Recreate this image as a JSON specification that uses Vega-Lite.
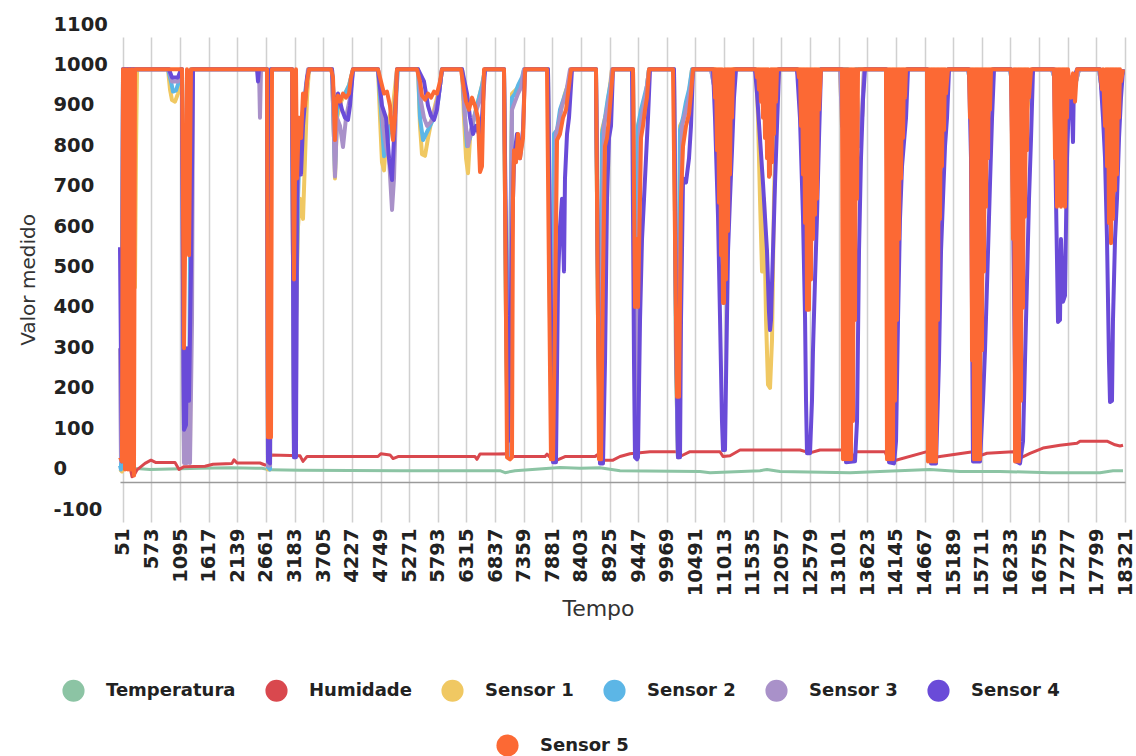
{
  "$schema": "https://vega.github.io/schema/vega-lite/v6.json",
  "width": 1005,
  "height": 485,
  "autosize": {"type": "none"},
  "padding": {"left": 120, "top": 37, "right": 11, "bottom": 234},
  "background": "#ffffff",
  "config": {
    "view": {"stroke": null},
    "font": "DejaVu Sans"
  },
  "datasets": {
    "series": [
      {"name": "Temperatura",
       "t": [0,365,547,1094,1458,2005,2589,2735,3281,5104,6927,7019,7201,8021,8386,8750,9115,10573,10756,11667,11795,12032,13308,13855,14766,15313,16042,16954,17865,18102,18285],
       "v": [33,32,30,32,33,34,33,29,28,27,27,22,27,35,33,34,27,25,22,27,30,25,22,25,30,25,25,22,22,27,27]},
      {"name": "Humidade",
       "t": [0,91,182,219,255,310,456,565,656,1003,1076,1167,1550,1695,2042,2078,2133,2552,2643,2716,2753,3281,3336,3409,4703,4758,4922,4977,5068,5834,6472,6508,6563,6873,7055,7146,7748,7784,7875,7967,8112,8659,8696,8750,8987,9115,9297,9662,10172,10209,10391,10938,10993,11120,11303,12396,12579,12761,13308,13344,13417,13946,14019,14128,14712,14766,14949,15550,15587,15805,16279,16407,16589,16826,17136,17446,17501,17993,18139,18230,18285],
       "v": [41,38,36,12,15,29,45,53,47,47,30,37,38,43,45,54,46,46,41,41,66,64,50,62,62,69,66,57,62,62,62,55,68,68,69,62,62,68,55,53,62,62,66,53,53,62,69,74,74,62,74,74,62,64,78,78,71,78,78,53,74,74,49,52,74,58,62,74,60,70,74,58,70,83,90,95,100,100,91,88,90]},
      {"name": "Sensor 1",
       "t": [0,36,73,237,255,273,292,310,875,912,948,1003,1057,1112,1130,1167,1276,1313,2680,2698,2735,2753,3136,3172,3208,3245,3281,3336,3373,3409,3445,3865,3901,3919,3956,4029,4102,4175,4248,4703,4740,4776,4813,4849,4904,4977,5050,5433,5469,5505,5560,5615,5688,5761,5834,5870,6235,6271,6308,6344,6381,6453,6526,6599,6654,7000,7037,7073,7110,7146,7219,7292,7365,7401,7802,7839,7875,7912,7967,8039,8112,8185,8222,8677,8714,8750,8787,8860,8914,8969,9352,9388,9407,9443,9516,9589,9644,10099,10136,10172,10209,10264,10318,10373,10428,10847,10920,10993,11029,11102,11175,11594,11631,11667,11704,11740,11777,11813,11850,11886,11922,11959,12014,12360,12451,12542,12579,12615,12688,12761,13126,13162,13199,13417,13454,13490,13527,13563,13964,14019,14074,14128,14183,14238,14292,14347,14712,14766,14821,14857,14912,14967,15022,15094,15459,15587,15678,15732,15769,15860,15915,16225,16334,16425,16480,16516,16589,16644,16990,17100,17209,17319,17428,17482,17847,17920,17975,18029,18084,18139,18194,18248,18285],
       "v": [30,25,1020,1020,500,480,820,1020,1020,970,944,940,960,1020,1020,80,80,1020,1020,30,30,1020,1020,80,400,630,700,650,800,950,1020,1020,850,750,900,940,960,980,1020,1020,900,790,770,840,900,930,1020,1020,880,810,806,850,900,940,980,1020,1020,900,800,763,850,900,940,980,1020,1020,400,60,500,960,970,980,1000,1020,1020,400,60,850,860,920,960,990,1020,1020,400,60,870,910,960,1020,1020,300,60,880,920,960,1020,1020,300,60,880,895,920,960,1020,1020,950,845,900,970,1020,1020,900,700,520,700,400,240,232,350,700,900,1020,1020,950,850,780,850,950,1020,1020,880,1010,1010,900,830,900,1020,1020,950,880,850,870,920,970,1020,1020,960,920,900,920,950,980,1020,1020,950,900,860,900,970,1020,1020,950,900,860,900,970,1020,1020,970,940,960,990,1020,1020,950,900,870,860,890,940,990,1020]},
      {"name": "Sensor 2",
       "t": [0,18,55,875,930,966,1021,1076,1130,1167,1258,1294,2680,2698,2735,2753,3136,3172,3208,3245,3281,3336,3391,3445,3865,3901,3919,3956,4029,4102,4175,4248,4703,4758,4813,4867,4922,4977,5031,5068,5433,5469,5524,5578,5651,5724,5797,5870,6235,6289,6326,6381,6453,6526,6599,6654,7000,7037,7073,7110,7146,7201,7256,7328,7365,7802,7839,7875,7912,7967,8021,8094,8167,8222,8677,8714,8750,8787,8842,8896,8951,8987,9352,9388,9407,9443,9498,9553,9607,9644,10099,10136,10172,10209,10264,10318,10373,10428,10774,10829,10883,10938,10993,11047,11102,11157,11211,11576,11631,11685,11740,11795,11850,11904,11959,12014,12342,12396,12451,12506,12560,12615,12670,12725,12779,13271,13308,13381,13417,13964,14019,14074,14128,14183,14238,14292,14347,14712,14766,14821,14857,14912,14967,15022,15094,15459,15532,15605,15678,15751,15824,15915,16225,16298,16371,16425,16480,16553,16644,16990,17100,17209,17319,17428,17482,17847,17920,17975,18029,18084,18139,18194,18248,18285],
       "v": [40,30,1020,1020,990,965,968,990,1020,80,80,1020,1020,35,30,1020,1020,70,400,700,850,920,980,1020,1020,850,765,920,950,960,980,1020,1020,920,805,830,880,860,950,1020,1020,900,845,860,880,900,940,1020,1020,900,830,850,900,940,980,1020,1020,400,60,500,950,960,980,1000,1020,1020,400,60,860,870,920,950,980,1020,1020,400,60,860,900,950,990,1020,1020,300,60,880,920,950,980,1020,1020,300,60,870,900,940,970,1020,1020,980,950,900,820,880,930,980,1020,1020,990,960,930,900,910,940,980,1020,1020,980,940,890,860,880,930,980,1020,1020,930,930,1020,1020,950,880,850,870,920,970,1020,1020,960,920,900,920,950,980,1020,1020,960,920,900,920,960,1020,1020,950,900,880,900,950,1020,1020,970,940,960,990,1020,1020,950,900,870,860,890,940,990,1020]},
      {"name": "Sensor 3",
       "t": [0,18,36,55,893,948,1057,1112,1130,1148,1167,1221,1258,1276,1313,1331,2534,2552,2570,2680,2698,2735,2753,3136,3172,3208,3227,3263,3318,3373,3427,3865,3901,3919,3956,4011,4065,4120,4193,4248,4703,4758,4794,4849,4904,4959,4995,5050,5433,5487,5542,5597,5670,5742,5815,5870,6235,6289,6344,6399,6453,6526,6599,6654,7000,7037,7073,7110,7146,7201,7256,7310,7365,7802,7839,7875,7912,7948,8003,8058,8131,8204,8677,8714,8750,8787,8823,8878,8933,8969,9352,9388,9407,9443,9480,9534,9589,9644,10099,10154,10172,10209,10245,10300,10355,10409,10446,10774,10829,10883,10938,10993,11047,11102,11157,11211,11576,11631,11685,11740,11795,11850,11904,11959,12014,12342,12396,12451,12506,12560,12615,12670,12725,12779,13126,13162,13199,13417,13454,13490,13527,13563,13964,14019,14074,14128,14183,14238,14292,14347,14712,14766,14821,14857,14912,14967,15022,15094,15459,15532,15605,15678,15751,15824,15915,16225,16298,16371,16425,16480,16553,16644,16990,17100,17209,17319,17428,17482,17847,17920,17975,18029,18084,18139,18194,18248,18285],
       "v": [330,50,60,1020,1020,990,990,1020,1020,300,46,46,300,46,400,1020,1020,900,1020,1020,40,40,1020,1020,60,200,650,850,900,950,1020,1020,850,755,900,880,828,900,950,1020,1020,950,880,830,800,672,750,1020,1020,940,900,880,890,920,960,1020,1020,900,830,870,900,930,960,1020,1020,500,60,300,920,940,960,975,1020,1020,500,60,400,860,890,930,960,1020,1020,500,60,500,880,920,960,1020,1020,400,60,500,880,920,960,1020,1020,300,60,500,880,910,940,980,1020,1020,980,950,900,820,880,930,980,1020,1020,990,960,930,900,910,940,980,1020,1020,980,940,890,860,880,930,980,1020,1020,880,1010,1010,900,830,900,1020,1020,950,880,850,870,920,970,1020,1020,960,920,900,920,950,980,1020,1020,960,920,900,920,960,1020,1020,950,900,880,900,950,1020,1020,970,940,960,990,1020,1020,950,900,870,860,890,940,990,1020]},
      {"name": "Sensor 4",
       "t": [0,18,36,55,893,948,1057,1112,1130,1148,1167,1203,1221,1258,1294,1331,2498,2516,2534,2680,2698,2735,2753,3136,3172,3208,3227,3263,3300,3336,3373,3409,3445,3865,3919,3974,4047,4102,4156,4193,4248,4703,4776,4849,4904,4959,4995,5050,5433,5542,5615,5670,5724,5779,5834,5870,6235,6326,6381,6435,6490,6545,6599,6654,7000,7037,7073,7110,7146,7183,7237,7292,7347,7383,7802,7839,7894,7948,7985,8021,8058,8094,8112,8149,8185,8240,8677,8714,8750,8805,8842,8878,8914,8951,8987,9334,9370,9388,9425,9443,9480,9516,9553,9589,9625,9662,10099,10136,10172,10209,10227,10264,10318,10373,10409,10446,10811,10847,10902,10938,10974,10993,11029,11047,11084,11120,11157,11193,11230,11576,11613,11667,11722,11795,11831,11850,11868,11886,11922,11941,11977,12014,12342,12396,12451,12488,12506,12524,12579,12615,12633,12670,12706,12743,12779,13162,13199,13235,13399,13436,13472,13508,13545,13581,13964,14001,14019,14110,14147,14183,14219,14256,14292,14329,14365,14712,14748,14785,14876,14930,14967,15003,15040,15076,15113,15477,15514,15550,15678,15732,15769,15824,15860,15897,15933,16243,16279,16334,16407,16462,16498,16535,16571,16608,16644,17027,17063,17100,17136,17154,17191,17227,17264,17300,17337,17373,17391,17446,17865,17920,17957,17993,18029,18048,18084,18102,18139,18175,18212,18248,18285],
       "v": [580,300,50,1020,1020,1000,1000,1020,1020,500,128,140,330,200,520,1020,1020,990,1020,1020,50,45,1020,1020,60,60,700,900,760,880,940,1000,1020,1020,900,960,920,900,895,930,1020,1020,930,900,800,746,850,1020,1020,990,930,905,895,920,980,1020,1020,960,900,860,880,860,900,1020,1020,600,100,300,600,800,860,800,870,1020,1020,600,48,48,500,630,700,520,750,860,900,1020,1020,500,45,45,300,700,850,880,1020,1020,300,60,55,60,400,600,700,800,900,1020,1020,400,60,60,400,750,740,800,880,1020,1020,900,655,408,150,78,78,245,570,700,820,950,1020,1020,960,850,738,570,420,375,400,490,650,738,880,1020,1020,900,655,408,200,70,70,200,325,500,655,850,1020,1020,600,48,50,150,570,800,945,1020,1020,500,48,45,100,400,650,780,840,900,1020,1020,700,45,45,300,570,700,830,900,1020,1020,800,50,50,200,325,570,738,900,1020,1020,700,50,45,100,300,500,700,850,1020,1020,700,395,400,600,445,460,800,950,1000,840,1000,1020,1020,900,800,600,300,197,200,400,600,700,850,950,1020]},
      {"name": "Sensor 5",
       "t": [0,36,55,91,109,146,164,201,219,255,273,1130,1167,1221,1258,1294,1331,2680,2698,2753,2771,3136,3172,3208,3227,3263,3300,3336,3373,3409,3445,3847,3883,3919,3938,3974,4011,4065,4120,4175,4211,4248,4703,4758,4813,4867,4922,4977,5013,5050,5414,5469,5505,5560,5615,5670,5724,5779,5834,5870,6216,6271,6308,6362,6417,6472,6526,6563,6599,6636,7000,7037,7055,7110,7146,7164,7183,7219,7256,7292,7347,7383,7784,7821,7857,7894,7930,7967,8021,8076,8131,8167,8222,8677,8714,8732,8769,8805,8842,8878,8914,8951,8987,9352,9388,9425,9443,9480,9498,9534,9571,9607,9644,10081,10118,10154,10191,10227,10264,10318,10373,10409,10446,10829,10847,10865,10883,10902,10920,10938,10956,10974,10993,11011,11029,11047,11066,11084,11102,11120,11139,11157,11175,11211,11594,11613,11631,11649,11667,11685,11704,11722,11740,11758,11777,11795,11813,11831,11850,11868,11886,11904,11922,11941,11959,11977,12014,12360,12378,12396,12415,12433,12451,12469,12488,12506,12524,12542,12560,12579,12597,12615,12633,12652,12670,12688,12706,12725,12743,12779,13162,13180,13199,13217,13235,13253,13271,13290,13308,13326,13344,13363,13381,13399,13417,13436,13454,13490,13964,13982,14001,14019,14037,14055,14074,14092,14110,14128,14147,14165,14183,14201,14219,14238,14256,14274,14292,14311,14329,14712,14730,14748,14766,14785,14803,14821,14839,14857,14876,14894,14912,14930,14949,14967,14985,15003,15022,15040,15058,15094,15477,15495,15514,15532,15550,15568,15587,15605,15623,15641,15659,15678,15696,15714,15732,15751,15769,15787,15805,15824,15842,15860,15878,15915,16243,16279,16298,16316,16334,16352,16371,16389,16407,16425,16443,16462,16480,16498,16516,16535,16553,16571,16608,17027,17045,17063,17082,17100,17118,17136,17154,17173,17191,17209,17227,17246,17264,17282,17337,17373,17410,17446,17865,17902,17920,17957,17975,17993,18011,18029,18048,18066,18084,18102,18120,18139,18157,18175,18194,18212,18230,18248,18285],
       "v": [60,50,1020,30,1020,30,1020,30,1020,15,1020,1020,330,1020,560,1020,1020,1020,110,110,1020,1020,500,1020,750,900,850,960,930,990,1020,1020,1000,845,930,955,940,960,950,960,1000,1020,1020,990,960,965,930,845,900,1020,1020,990,955,945,960,950,965,960,990,1020,1020,970,940,920,950,930,900,766,780,1020,1020,400,60,55,60,700,820,790,860,800,850,1020,1020,500,55,55,400,845,860,900,920,960,1020,1020,400,55,55,500,830,850,900,960,1020,1020,432,600,432,700,850,880,920,950,1020,1020,600,210,210,700,830,880,910,960,1020,1020,950,1020,820,1020,690,1020,560,1020,442,442,1020,500,1020,620,1020,760,1020,900,1020,1020,1020,1000,1020,970,1020,940,1020,900,1020,850,1020,800,1020,754,760,1020,790,1020,860,1020,940,1020,1020,1020,1000,1020,880,1020,760,1020,640,1020,425,1020,425,1020,500,1020,600,1020,660,1020,700,1020,920,1020,1020,55,1020,55,1020,55,1020,55,1020,55,1020,150,1020,400,1020,700,1020,1020,1020,55,1020,55,1020,55,1020,55,1020,200,1020,400,1020,600,1020,750,1020,850,1020,950,1020,1020,50,1020,50,1020,50,1020,50,1020,50,1020,400,1020,650,1020,780,1020,870,1020,960,1020,1020,900,1020,300,1020,55,1020,55,1020,55,1020,55,1020,325,1020,520,1020,680,1020,800,1020,920,1020,1020,1020,600,1020,50,1020,50,1020,50,1020,200,1020,430,1020,655,1020,820,1020,950,1020,1020,800,1020,680,1020,690,1020,680,1020,690,1020,680,1020,900,1020,950,1010,940,1020,1020,970,1020,880,1020,780,1020,640,1020,590,1020,650,1020,720,1020,760,1020,900,1020,990,1020]}
    ]
  },
  "data": {"name": "series"},
  "transform": [{"flatten": ["t", "v"]}],
  "encoding": {
    "x": {
      "field": "t",
      "type": "quantitative",
      "scale": {"domain": [0, 18321], "nice": false, "zero": false},
      "axis": {
        "title": "Tempo",
        "titleFont": "DejaVu Sans",
        "titleFontSize": 22,
        "titleFontWeight": "normal",
        "titleColor": "#333333",
        "titlePadding": 3,
        "titleX": 478,
        "values": [51,573,1095,1617,2139,2661,3183,3705,4227,4749,5271,5793,6315,6837,7359,7881,8403,8925,9447,9969,10491,11013,11535,12057,12579,13101,13623,14145,14667,15189,15711,16233,16755,17277,17799,18321],
        "format": "d",
        "labelAngle": -90,
        "labelFont": "DejaVu Sans",
        "labelFontSize": 19.5,
        "labelFontWeight": "bold",
        "labelColor": "#222222",
        "labelPadding": 6,
        "labelOverlap": false,
        "labelFlush": false,
        "labelBound": false,
        "ticks": false,
        "domain": false,
        "grid": true,
        "gridColor": "#d0d0d0",
        "gridWidth": 1.5
      }
    },
    "y": {
      "field": "v",
      "type": "quantitative",
      "scale": {"domain": [-100, 1100], "nice": false, "zero": false},
      "axis": {
        "title": "Valor medido",
        "titleFont": "DejaVu Sans",
        "titleFontSize": 20,
        "titleFontWeight": "normal",
        "titleColor": "#333333",
        "titlePadding": 15,
        "values": [-100,0,100,200,300,400,500,600,700,800,900,1000,1100],
        "labelExpr": "toString(datum.value)",
        "labelFont": "DejaVu Sans",
        "labelFontSize": 19.5,
        "labelFontWeight": "bold",
        "labelColor": "#222222",
        "labelAlign": "left",
        "labelBaseline": "middle",
        "labelPadding": 67,
        "labelOffset": -13,
        "labelFlush": false,
        "labelBound": false,
        "ticks": false,
        "domain": false,
        "grid": true,
        "gridWidth": 1.5,
        "gridColor": {"condition": {"test": "datum.value === 0", "value": "#9a9a9a"}, "value": "transparent"}
      }
    }
  },
  "layer": [
    {
      "encoding": {
        "stroke": {
          "field": "name",
          "type": "nominal",
          "scale": {
            "domain": ["Temperatura", "Humidade", "Sensor 1", "Sensor 2", "Sensor 3", "Sensor 4", "Sensor 5"],
            "range": ["#8cc4a4", "#d9484e", "#f0c862", "#5cb6e6", "#a991c9", "#6a4bd8", "#fc6934"]
          },
          "legend": null
        }
      },
      "layer": [
        {"transform": [{"filter": "datum.name === 'Temperatura'"}], "mark": {"type": "line", "strokeWidth": 3, "strokeJoin": "round"}},
        {"transform": [{"filter": "datum.name === 'Humidade'"}], "mark": {"type": "line", "strokeWidth": 3, "strokeJoin": "round"}},
        {"transform": [{"filter": "datum.name === 'Sensor 1'"}], "mark": {"type": "line", "strokeWidth": 4, "strokeJoin": "round"}},
        {"transform": [{"filter": "datum.name === 'Sensor 2'"}], "mark": {"type": "line", "strokeWidth": 4, "strokeJoin": "round"}},
        {"transform": [{"filter": "datum.name === 'Sensor 3'"}], "mark": {"type": "line", "strokeWidth": 4, "strokeJoin": "round"}},
        {"transform": [{"filter": "datum.name === 'Sensor 4'"}], "mark": {"type": "line", "strokeWidth": 4, "strokeJoin": "round"}},
        {"transform": [{"filter": "datum.name === 'Sensor 5'"}], "mark": {"type": "line", "strokeWidth": 4, "strokeJoin": "round"}}
      ]
    },
    {
      "transform": [{"filter": "datum.t === 0 && datum.name !== 'Sensor 5'"}],
      "mark": {"type": "point", "filled": true, "opacity": 0},
      "encoding": {
        "fill": {
          "field": "name",
          "type": "nominal",
          "scale": {
            "domain": ["Temperatura", "Humidade", "Sensor 1", "Sensor 2", "Sensor 3", "Sensor 4"],
            "range": ["#8cc4a4", "#d9484e", "#f0c862", "#5cb6e6", "#a991c9", "#6a4bd8"]
          },
          "legend": {
            "orient": "none",
            "legendX": -58,
            "legendY": 642,
            "direction": "horizontal",
            "columns": 6,
            "title": null,
            "padding": 0,
            "symbolType": "circle",
            "symbolSize": 490,
            "symbolStrokeWidth": 0,
            "symbolOpacity": 1,
            "labelFont": "DejaVu Sans",
            "labelFontSize": 18,
            "labelFontWeight": "bold",
            "labelColor": "#222222",
            "labelOffset": 21,
            "labelLimit": 0,
            "columnPadding": 29
          }
        }
      }
    },
    {
      "transform": [{"filter": "datum.t === 0 && datum.name === 'Sensor 5'"}],
      "mark": {"type": "point", "filled": true, "opacity": 0},
      "encoding": {
        "color": {
          "field": "name",
          "type": "nominal",
          "scale": {"domain": ["Sensor 5"], "range": ["#fc6934"]},
          "legend": {
            "orient": "none",
            "legendX": 376,
            "legendY": 697,
            "direction": "horizontal",
            "title": null,
            "padding": 0,
            "symbolType": "circle",
            "symbolSize": 490,
            "symbolStrokeWidth": 0,
            "symbolOpacity": 1,
            "labelFont": "DejaVu Sans",
            "labelFontSize": 18,
            "labelFontWeight": "bold",
            "labelColor": "#222222",
            "labelOffset": 21,
            "labelLimit": 0
          }
        }
      }
    }
  ]
}
